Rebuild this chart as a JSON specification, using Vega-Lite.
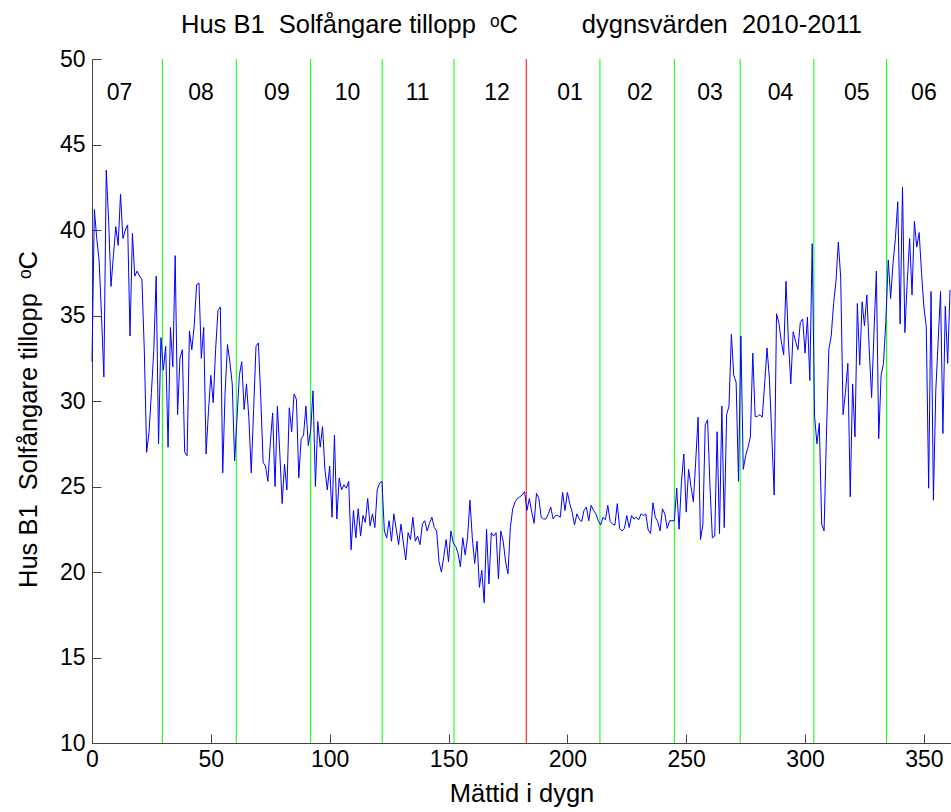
{
  "$schema": "https://vega.github.io/schema/vega-lite/v6.json",
  "width": 859,
  "height": 684,
  "autosize": "none",
  "padding": {"left": 92, "top": 59, "right": 0, "bottom": 69},
  "background": "white",
  "title": {
    "text": "Hus B1\u00a0\u00a0Solfångare tillopp\u00a0\u00a0ᵒC\u00a0\u00a0\u00a0\u00a0\u00a0\u00a0\u00a0\u00a0\u00a0dygnsvärden\u00a0\u00a02010-2011",
    "font": "Liberation Sans",
    "fontSize": 25.5,
    "fontWeight": "normal",
    "color": "#000000",
    "anchor": "middle",
    "frame": "group",
    "baseline": "alphabetic",
    "offset": 24,
    "dy": 34
  },
  "datasets": {
    "series": [
      {"day":0,"temp":32.3},{"day":1,"temp":41.2},{"day":2,"temp":39.5},{"day":3,"temp":38.2},{"day":4,"temp":35.0},
      {"day":5,"temp":31.4},{"day":6,"temp":43.5},{"day":7,"temp":40.5},{"day":8,"temp":36.7},{"day":9,"temp":38.5},
      {"day":10,"temp":40.2},{"day":11,"temp":39.1},{"day":12,"temp":42.1},{"day":13,"temp":39.5},{"day":14,"temp":40.0},
      {"day":15,"temp":40.3},{"day":16,"temp":33.8},{"day":17,"temp":39.8},{"day":18,"temp":37.3},{"day":19,"temp":37.6},
      {"day":20,"temp":37.3},{"day":21,"temp":37.1},{"day":22,"temp":33.0},{"day":23,"temp":27.0},{"day":24,"temp":28.2},
      {"day":25,"temp":30.5},{"day":26,"temp":33.0},{"day":27,"temp":37.3},{"day":28,"temp":27.5},{"day":29,"temp":33.7},
      {"day":30,"temp":31.8},{"day":31,"temp":33.2},{"day":32,"temp":27.3},{"day":33,"temp":34.3},{"day":34,"temp":32.0},
      {"day":35,"temp":38.5},{"day":36,"temp":29.2},{"day":37,"temp":32.5},{"day":38,"temp":33.0},{"day":39,"temp":27.0},
      {"day":40,"temp":26.8},{"day":41,"temp":34.1},{"day":42,"temp":33.0},{"day":43,"temp":34.4},{"day":44,"temp":36.8},
      {"day":45,"temp":36.9},{"day":46,"temp":32.5},{"day":47,"temp":34.3},{"day":48,"temp":26.9},{"day":49,"temp":29.4},
      {"day":50,"temp":31.5},{"day":51,"temp":29.9},{"day":52,"temp":33.0},{"day":53,"temp":35.3},{"day":54,"temp":35.5},
      {"day":55,"temp":25.8},{"day":56,"temp":30.5},{"day":57,"temp":33.3},{"day":58,"temp":32.3},{"day":59,"temp":31.0},
      {"day":60,"temp":26.5},{"day":61,"temp":29.0},{"day":62,"temp":31.5},{"day":63,"temp":32.3},{"day":64,"temp":29.5},
      {"day":65,"temp":31.0},{"day":66,"temp":29.0},{"day":67,"temp":25.8},{"day":68,"temp":29.5},{"day":69,"temp":33.2},
      {"day":70,"temp":33.4},{"day":71,"temp":30.2},{"day":72,"temp":26.4},{"day":73,"temp":26.2},{"day":74,"temp":25.3},
      {"day":75,"temp":27.5},{"day":76,"temp":29.3},{"day":77,"temp":25.0},{"day":78,"temp":29.7},{"day":79,"temp":27.0},
      {"day":80,"temp":24.0},{"day":81,"temp":26.3},{"day":82,"temp":24.8},{"day":83,"temp":29.6},{"day":84,"temp":28.2},
      {"day":85,"temp":30.4},{"day":86,"temp":30.1},{"day":87,"temp":25.5},{"day":88,"temp":27.8},{"day":89,"temp":28.0},
      {"day":90,"temp":29.7},{"day":91,"temp":27.4},{"day":92,"temp":28.3},{"day":93,"temp":30.6},{"day":94,"temp":25.0},
      {"day":95,"temp":28.8},{"day":96,"temp":27.3},{"day":97,"temp":28.5},{"day":98,"temp":26.0},{"day":99,"temp":24.8},
      {"day":100,"temp":26.2},{"day":101,"temp":23.2},{"day":102,"temp":28.0},{"day":103,"temp":23.1},{"day":104,"temp":25.5},
      {"day":105,"temp":24.8},{"day":106,"temp":25.1},{"day":107,"temp":24.9},{"day":108,"temp":25.3},{"day":109,"temp":21.3},
      {"day":110,"temp":23.6},{"day":111,"temp":22.0},{"day":112,"temp":23.7},{"day":113,"temp":22.1},{"day":114,"temp":23.3},
      {"day":115,"temp":22.9},{"day":116,"temp":24.3},{"day":117,"temp":22.7},{"day":118,"temp":23.4},{"day":119,"temp":22.6},
      {"day":120,"temp":24.8},{"day":121,"temp":25.2},{"day":122,"temp":25.3},{"day":123,"temp":22.4},{"day":124,"temp":22.0},
      {"day":125,"temp":23.0},{"day":126,"temp":21.8},{"day":127,"temp":23.4},{"day":128,"temp":22.5},{"day":129,"temp":21.6},
      {"day":130,"temp":22.8},{"day":131,"temp":21.7},{"day":132,"temp":20.7},{"day":133,"temp":22.3},{"day":134,"temp":21.9},
      {"day":135,"temp":23.2},{"day":136,"temp":21.8},{"day":137,"temp":22.1},{"day":138,"temp":21.6},{"day":139,"temp":22.8},
      {"day":140,"temp":23.0},{"day":141,"temp":22.4},{"day":142,"temp":22.85},{"day":143,"temp":23.2},{"day":144,"temp":22.6},
      {"day":145,"temp":22.4},{"day":146,"temp":20.6},{"day":147,"temp":20.0},{"day":148,"temp":20.9},{"day":149,"temp":21.9},
      {"day":150,"temp":20.6},{"day":151,"temp":22.4},{"day":152,"temp":21.7},{"day":153,"temp":21.5},{"day":154,"temp":21.1},
      {"day":155,"temp":20.3},{"day":156,"temp":22.0},{"day":157,"temp":21.0},{"day":158,"temp":22.0},{"day":159,"temp":24.2},
      {"day":160,"temp":22.0},{"day":161,"temp":20.5},{"day":162,"temp":21.8},{"day":163,"temp":19.1},{"day":164,"temp":20.1},
      {"day":165,"temp":18.2},{"day":166,"temp":22.5},{"day":167,"temp":19.3},{"day":168,"temp":22.3},{"day":169,"temp":22.1},
      {"day":170,"temp":22.3},{"day":171,"temp":19.6},{"day":172,"temp":22.4},{"day":173,"temp":21.8},{"day":174,"temp":20.6},
      {"day":175,"temp":19.9},{"day":176,"temp":22.6},{"day":177,"temp":23.7},{"day":178,"temp":24.1},{"day":179,"temp":24.3},
      {"day":180,"temp":24.4},{"day":181,"temp":24.5},{"day":182,"temp":24.7},{"day":183,"temp":23.6},{"day":184,"temp":24.3},
      {"day":185,"temp":23.5},{"day":186,"temp":22.85},{"day":187,"temp":24.6},{"day":188,"temp":24.3},{"day":189,"temp":23.2},
      {"day":190,"temp":23.1},{"day":191,"temp":23.1},{"day":192,"temp":23.4},{"day":193,"temp":23.8},{"day":194,"temp":23.1},
      {"day":195,"temp":23.3},{"day":196,"temp":23.3},{"day":197,"temp":23.2},{"day":198,"temp":24.65},{"day":199,"temp":23.6},
      {"day":200,"temp":24.65},{"day":201,"temp":24.0},{"day":202,"temp":23.5},{"day":203,"temp":22.75},{"day":204,"temp":23.4},
      {"day":205,"temp":23.1},{"day":206,"temp":22.95},{"day":207,"temp":23.6},{"day":208,"temp":23.8},{"day":209,"temp":23.0},
      {"day":210,"temp":23.9},{"day":211,"temp":23.6},{"day":212,"temp":23.4},{"day":213,"temp":23.0},{"day":214,"temp":22.75},
      {"day":215,"temp":23.2},{"day":216,"temp":23.05},{"day":217,"temp":23.9},{"day":218,"temp":22.95},{"day":219,"temp":22.8},
      {"day":220,"temp":22.75},{"day":221,"temp":24.0},{"day":222,"temp":22.55},{"day":223,"temp":22.4},{"day":224,"temp":22.55},
      {"day":225,"temp":23.3},{"day":226,"temp":22.6},{"day":227,"temp":23.3},{"day":228,"temp":23.1},{"day":229,"temp":23.2},
      {"day":230,"temp":23.05},{"day":231,"temp":23.4},{"day":232,"temp":23.3},{"day":233,"temp":23.4},{"day":234,"temp":22.45},
      {"day":235,"temp":22.25},{"day":236,"temp":24.05},{"day":237,"temp":23.2},{"day":238,"temp":22.95},{"day":239,"temp":22.4},
      {"day":240,"temp":23.7},{"day":241,"temp":23.4},{"day":242,"temp":22.55},{"day":243,"temp":23.0},{"day":244,"temp":23.0},
      {"day":245,"temp":23.0},{"day":246,"temp":24.9},{"day":247,"temp":22.5},{"day":248,"temp":25.3},{"day":249,"temp":26.9},
      {"day":250,"temp":23.5},{"day":251,"temp":26.0},{"day":252,"temp":25.0},{"day":253,"temp":24.1},{"day":254,"temp":26.5},
      {"day":255,"temp":29.05},{"day":256,"temp":21.9},{"day":257,"temp":22.75},{"day":258,"temp":28.6},{"day":259,"temp":28.9},
      {"day":260,"temp":25.0},{"day":261,"temp":22.0},{"day":262,"temp":22.1},{"day":263,"temp":28.2},{"day":264,"temp":22.25},
      {"day":265,"temp":29.7},{"day":266,"temp":22.6},{"day":267,"temp":29.2},{"day":268,"temp":29.7},{"day":269,"temp":33.9},
      {"day":270,"temp":31.5},{"day":271,"temp":31.1},{"day":272,"temp":25.3},{"day":273,"temp":33.8},{"day":274,"temp":26.0},
      {"day":275,"temp":26.8},{"day":276,"temp":27.3},{"day":277,"temp":27.9},{"day":278,"temp":32.8},{"day":279,"temp":29.1},
      {"day":280,"temp":29.1},{"day":281,"temp":29.2},{"day":282,"temp":29.05},{"day":283,"temp":31.0},{"day":284,"temp":33.1},
      {"day":285,"temp":31.3},{"day":286,"temp":28.0},{"day":287,"temp":24.5},{"day":288,"temp":35.1},{"day":289,"temp":34.55},
      {"day":290,"temp":33.5},{"day":291,"temp":32.7},{"day":292,"temp":37.0},{"day":293,"temp":33.5},{"day":294,"temp":31.0},
      {"day":295,"temp":34.05},{"day":296,"temp":33.5},{"day":297,"temp":33.0},{"day":298,"temp":34.6},{"day":299,"temp":34.8},
      {"day":300,"temp":32.8},{"day":301,"temp":34.9},{"day":302,"temp":31.2},{"day":303,"temp":39.2},{"day":304,"temp":29.1},
      {"day":305,"temp":27.5},{"day":306,"temp":28.7},{"day":307,"temp":22.8},{"day":308,"temp":22.4},{"day":309,"temp":28.0},
      {"day":310,"temp":33.0},{"day":311,"temp":33.8},{"day":312,"temp":35.7},{"day":313,"temp":37.0},{"day":314,"temp":39.3},
      {"day":315,"temp":37.2},{"day":316,"temp":29.2},{"day":317,"temp":30.5},{"day":318,"temp":32.2},{"day":319,"temp":24.4},
      {"day":320,"temp":31.0},{"day":321,"temp":27.9},{"day":322,"temp":35.7},{"day":323,"temp":32.1},{"day":324,"temp":35.8},
      {"day":325,"temp":34.4},{"day":326,"temp":36.2},{"day":327,"temp":33.0},{"day":328,"temp":30.2},{"day":329,"temp":34.0},
      {"day":330,"temp":37.6},{"day":331,"temp":27.8},{"day":332,"temp":31.5},{"day":333,"temp":32.2},{"day":334,"temp":34.7},
      {"day":335,"temp":38.25},{"day":336,"temp":36.0},{"day":337,"temp":38.05},{"day":338,"temp":39.5},{"day":339,"temp":41.65},
      {"day":340,"temp":34.5},{"day":341,"temp":42.5},{"day":342,"temp":34.0},{"day":343,"temp":37.0},{"day":344,"temp":39.5},
      {"day":345,"temp":36.2},{"day":346,"temp":40.5},{"day":347,"temp":39.0},{"day":348,"temp":39.85},{"day":349,"temp":37.5},
      {"day":350,"temp":35.5},{"day":351,"temp":34.35},{"day":352,"temp":24.9},{"day":353,"temp":36.4},{"day":354,"temp":24.2},
      {"day":355,"temp":30.6},{"day":356,"temp":33.5},{"day":357,"temp":36.4},{"day":358,"temp":28.1},{"day":359,"temp":35.55},
      {"day":360,"temp":32.2},{"day":361,"temp":36.5}
    ],
    "bounds": [
      {"day":29.6,"kind":"month"},{"day":60.7,"kind":"month"},{"day":92.0,"kind":"month"},{"day":122.1,"kind":"month"},
      {"day":152.3,"kind":"month"},{"day":182.7,"kind":"year"},{"day":213.7,"kind":"month"},{"day":245.0,"kind":"month"},
      {"day":272.7,"kind":"month"},{"day":303.7,"kind":"month"},{"day":334.3,"kind":"month"}
    ],
    "months": [
      {"day":11.6,"label":"07"},{"day":45.9,"label":"08"},{"day":77.8,"label":"09"},{"day":107.5,"label":"10"},
      {"day":137.0,"label":"11"},{"day":170.4,"label":"12"},{"day":201.1,"label":"01"},{"day":230.6,"label":"02"},
      {"day":260.0,"label":"03"},{"day":289.7,"label":"04"},{"day":321.8,"label":"05"},{"day":350.0,"label":"06"}
    ]
  },
  "layer": [
    {
      "data": {"name": "bounds"},
      "mark": {"type": "rule", "strokeWidth": 1},
      "encoding": {
        "x": {"field": "day", "type": "quantitative", "title": "Mättid i dygn"},
        "color": {
          "field": "kind",
          "type": "nominal",
          "scale": {"domain": ["month", "year"], "range": ["#00ff00", "#ff0000"]},
          "legend": null
        }
      }
    },
    {
      "data": {"name": "series"},
      "mark": {"type": "line", "color": "#0000ff", "strokeWidth": 1},
      "encoding": {
        "x": {
          "field": "day",
          "type": "quantitative",
          "title": "Mättid i dygn",
          "scale": {"domain": [0, 361.4], "nice": false, "zero": false},
          "axis": {
            "values": [0, 50, 100, 150, 200, 250, 300, 350],
            "labelPadding": 14,
            "labelFlush": false,
            "titleY": 58,
            "titleBaseline": "alphabetic"
          }
        },
        "y": {
          "field": "temp",
          "type": "quantitative",
          "title": "Hus B1\u00a0\u00a0Solfångare tillopp\u00a0\u00a0ᵒC",
          "scale": {"domain": [10, 50], "nice": false, "zero": false},
          "axis": {
            "values": [10, 15, 20, 25, 30, 35, 40, 45, 50],
            "labelPadding": 16,
            "labelFlush": false,
            "titleX": -56,
            "titleY": 360,
            "titleAngle": -90,
            "titleAlign": "center",
            "titleBaseline": "alphabetic"
          }
        }
      }
    },
    {
      "data": {"name": "months"},
      "mark": {"type": "text", "fontSize": 23, "font": "Liberation Sans", "align": "center", "baseline": "middle", "color": "#000000"},
      "encoding": {
        "x": {"field": "day", "type": "quantitative", "title": "Mättid i dygn"},
        "y": {"datum": 48},
        "text": {"field": "label"}
      }
    }
  ],
  "config": {
    "view": {"stroke": null},
    "font": "Liberation Sans",
    "axis": {
      "grid": false,
      "domainColor": "#444444",
      "tickColor": "#444444",
      "tickSize": -9,
      "labelColor": "#000000",
      "titleColor": "#000000",
      "labelFontSize": 23,
      "titleFontSize": 25.5,
      "titleFontWeight": "normal",
      "labelFont": "Liberation Sans",
      "titleFont": "Liberation Sans"
    }
  }
}
